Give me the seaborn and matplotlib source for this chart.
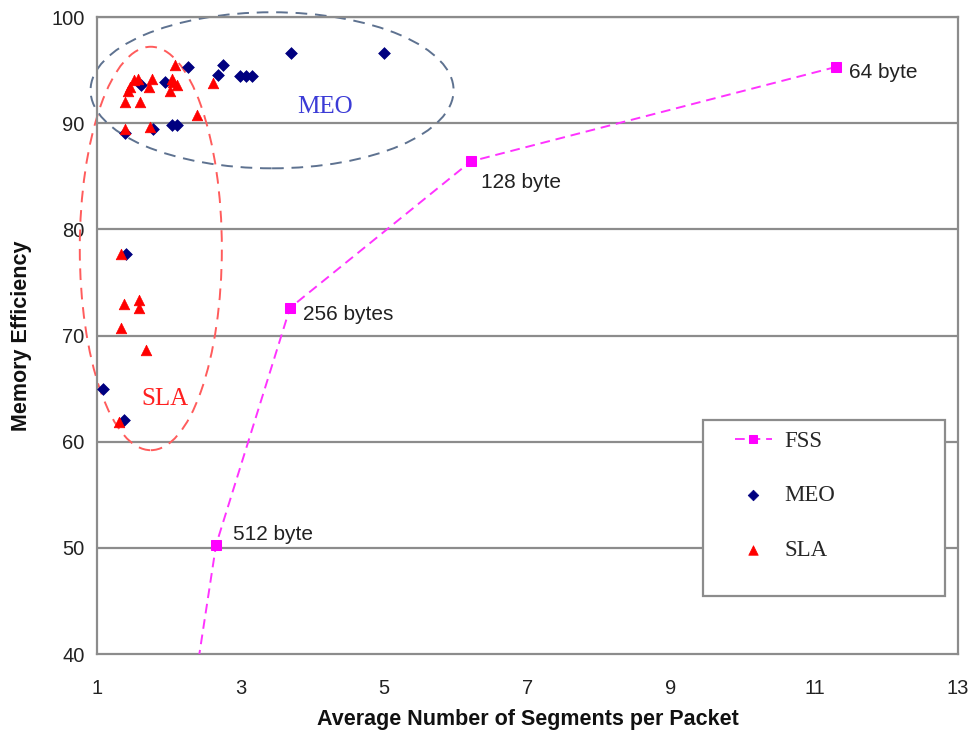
import matplotlib
matplotlib.use("Agg")
import matplotlib.pyplot as plt
from matplotlib.patches import Ellipse, Rectangle
import seaborn as sns
import pandas as pd

# Fixed-size segmentation: one point per segment size
fss_x = [11.3, 6.21, 3.69, 2.66, 2.2]
fss_y = [95.3, 86.4, 72.6, 50.3, 30.0]
fss_labels = ["64 byte", "128 byte", "256 bytes", "512 byte"]

# MEO allocation results
meo_x = [2.27, 2.76, 2.69, 2.99, 3.08, 3.16, 3.71, 5.0, 1.95, 1.62,
         2.05, 2.11, 1.78, 1.39, 1.40, 1.09, 1.37]
meo_y = [95.3, 95.5, 94.5, 94.4, 94.4, 94.4, 96.6, 96.6, 93.9, 93.6,
         89.8, 89.8, 89.5, 89.1, 77.7, 65.0, 62.0]

# SLA allocation results
sla_x = [1.39, 1.60, 1.46, 1.51, 1.57, 1.72, 1.76, 2.04, 2.11, 2.02,
         2.09, 2.06, 2.62, 2.39, 1.39, 1.74, 1.34, 1.38, 1.58, 1.58,
         1.34, 1.68, 1.31, 1.43]
sla_y = [92.0, 92.0, 93.4, 94.1, 94.2, 93.4, 94.2, 94.2, 93.6, 93.0,
         95.5, 93.9, 93.8, 90.8, 89.5, 89.6, 77.7, 73.0, 73.3, 72.6,
         70.7, 68.6, 61.9, 93.0]

x_ticks = [1, 3, 5, 7, 9, 11, 13]
y_ticks = [40, 50, 60, 70, 80, 90, 100]

sns.set_style("white")
plt.rcParams["font.family"] = ["Liberation Sans", "DejaVu Sans"]

fss = pd.DataFrame({"x": fss_x, "y": fss_y})
meo = pd.DataFrame({"x": meo_x, "y": meo_y})
sla = pd.DataFrame({"x": sla_x, "y": sla_y})

fig = plt.figure(figsize=(9.71, 7.31), dpi=100)
ax = fig.add_axes([0.0999, 0.1053, 0.8867, 0.8714])

grid_c = "#8c8c8c"
for yv in y_ticks[1:]:
    ax.axhline(yv, color=grid_c, lw=1.6, zorder=0)

sns.lineplot(data=fss, x="x", y="y", ax=ax, color="#ff33ff", lw=1.4,
             dashes=False, linestyle=(0, (5, 3)), marker="s", markersize=7,
             markeredgecolor="#ff00ff", markerfacecolor="#ff00ff",
             label="FSS", sort=False, zorder=3)
sns.scatterplot(data=meo, x="x", y="y", ax=ax, color="#000080", marker="D",
                s=36, edgecolor="#000080", linewidth=0.5, label="MEO", zorder=4)
sns.scatterplot(data=sla, x="x", y="y", ax=ax, color="#ff0000", marker="^",
                s=58, edgecolor="#ff0000", linewidth=0.5, label="SLA", zorder=4)

# Segment-size labels, each nudged off its marker (offsets in points)
label_offsets = [(9, -4), (7, -15), (9, -4.5), (12, 7)]
for xv, yv, t, off in zip(fss_x, fss_y, fss_labels, label_offsets):
    ax.annotate(t, (xv, yv), xytext=off, textcoords="offset points",
                fontsize=15, color="#222222", va="center", ha="left")

# Group outlines
ax.add_patch(Ellipse((3.44, 93.1), 5.06, 14.7, fill=False, ec="#5e7290",
                     lw=1.4, ls=(0, (6, 4)), clip_on=False, zorder=2))
ax.add_patch(Ellipse((1.75, 78.2), 1.98, 38.0, fill=False, ec="#ff5c5c",
                     lw=1.4, ls=(0, (6, 4)), clip_on=False, zorder=2))
ax.text(4.18, 91.5, "MEO", color="#3b3bd6", fontsize=18,
        family=["Liberation Serif"], ha="center", va="center")
ax.text(1.95, 64.0, "SLA", color="#ff2020", fontsize=18,
        family=["Liberation Serif"], ha="center", va="center")

ax.set_xlim(1, 13)
ax.set_ylim(40, 100)
ax.set_xticks(x_ticks)
ax.set_yticks(y_ticks)
ax.tick_params(axis="both", direction="out", length=6, width=1,
               color=grid_c, labelsize=14.5, labelcolor="#222222")
ax.tick_params(axis="x", pad=12)
ax.tick_params(axis="y", pad=3)
for side in ["left", "bottom", "right", "top"]:
    ax.spines[side].set_color(grid_c)
    ax.spines[side].set_linewidth(1.6)

ax.set_xlabel("Average Number of Segments per Packet", fontsize=15.5,
              fontweight="bold", color="#111111", labelpad=8)
ax.set_ylabel("Memory Efficiency", fontsize=15.5, fontweight="bold",
              color="#111111", labelpad=14)

# Legend frame drawn separately so its box can be sized freely
ax.add_patch(Rectangle((0.704, 0.091), 0.281, 0.276, transform=ax.transAxes,
                       fill=True, fc="white", ec=grid_c, lw=1.6, zorder=5))
leg = ax.legend(loc="upper left", bbox_to_anchor=(0.741, 0.35),
                prop={"family": "Liberation Serif", "size": 16.5},
                frameon=False, labelspacing=1.45, borderpad=0,
                handlelength=1.6, handletextpad=0.55, borderaxespad=0,
                markerscale=0.9)
leg.set_zorder(6)

fig.savefig("out.png", dpi=100)
